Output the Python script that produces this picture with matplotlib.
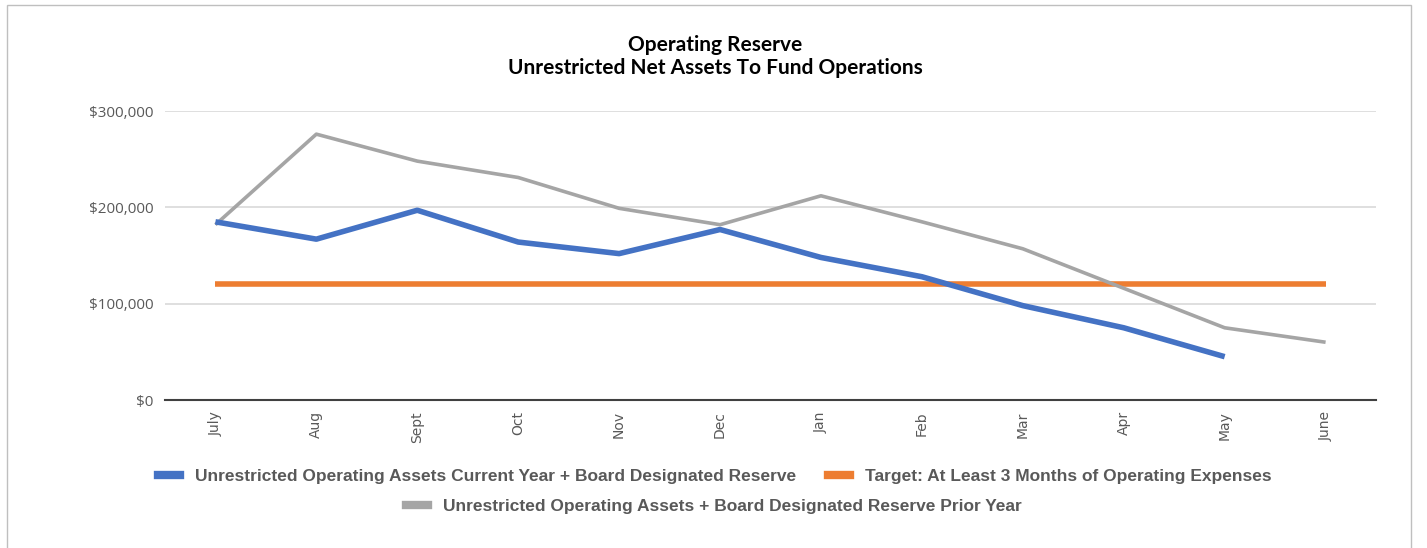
import matplotlib
matplotlib.use("Agg")
import matplotlib.pyplot as plt
from matplotlib.lines import Line2D
from matplotlib.patches import Rectangle
from matplotlib.ticker import FuncFormatter

months = ["July", "Aug", "Sept", "Oct", "Nov", "Dec", "Jan", "Feb", "Mar", "Apr", "May", "June"]
current_year = [185000, 167000, 197000, 164000, 152000, 177000, 148000, 128000, 98000, 75000, 45000]
target = [120500] * 12
prior_year = [182000, 276000, 248000, 231000, 199000, 182000, 212000, 185000, 157000, 116000, 75000, 60000]

lbl_current = "Unrestricted Operating Assets Current Year + Board Designated Reserve"
lbl_target = "Target: At Least 3 Months of Operating Expenses"
lbl_prior = "Unrestricted Operating Assets + Board Designated Reserve Prior Year"

blue = "#4472c4"
orange = "#ed7d31"
gray = "#a5a5a5"
txt = "#595959"

fig = plt.figure(figsize=(14.27, 5.48), dpi=100)
ax = fig.add_axes([0.1156, 0.27, 0.8487, 0.5274])

x = list(range(len(months)))
ax.plot(x, target, color=orange, lw=4.0, solid_capstyle="butt", zorder=3)
ax.plot(x, prior_year, color=gray, lw=2.6, solid_capstyle="butt", zorder=4)
ax.plot(x[:len(current_year)], current_year, color=blue, lw=4.0, solid_capstyle="butt", zorder=5)

ax.set_xlim(-0.5, len(months) - 0.5)
ax.set_ylim(0, 300000)
ax.set_yticks([0, 100000, 200000, 300000])
ax.yaxis.set_major_formatter(FuncFormatter(lambda v, p: "${:,.0f}".format(v)))
ax.set_xticks(x)
ax.set_xticklabels(months, rotation=90, fontsize=10, color=txt, family="DejaVu Sans")
for t in ax.get_yticklabels():
    t.set_fontsize(11)
    t.set_color(txt)
    t.set_family("Open Sans")
ax.tick_params(axis="both", length=0, pad=8)
ax.grid(axis="y", color="#d9d9d9", lw=1.2)
ax.set_axisbelow(True)
for s in ["top", "right", "left"]:
    ax.spines[s].set_visible(False)
ax.spines["bottom"].set_color("#404040")
ax.spines["bottom"].set_linewidth(1.5)
ax.spines["bottom"].set_zorder(6)

fig.text(0.501, 0.918, "Operating Reserve", ha="center", va="center",
         fontsize=15, fontweight="bold", family="Lato")
fig.text(0.501, 0.876, "Unrestricted Net Assets To Fund Operations", ha="center", va="center",
         fontsize=15, fontweight="bold", family="Lato")

leg_font = {"family": "Liberation Sans", "weight": "bold", "size": 12.5}
h1 = [Line2D([], [], color=blue, lw=6), Line2D([], [], color=orange, lw=6)]
leg1 = fig.legend(h1, [lbl_current, lbl_target], loc="center", bbox_to_anchor=(0.501, 0.131),
                  ncol=2, frameon=False, prop=leg_font, handlelength=1.27, columnspacing=1.8,
                  handletextpad=0.86)
for t in leg1.get_texts():
    t.set_color(txt)
h2 = [Line2D([], [], color=gray, lw=6)]
leg2 = fig.legend(h2, [lbl_prior], loc="center", bbox_to_anchor=(0.5, 0.075),
                  frameon=False, prop=leg_font, handlelength=1.27, handletextpad=0.86)
for t in leg2.get_texts():
    t.set_color(txt)

fig.patches.append(Rectangle((0.005, -0.01), 0.984, 1.0, transform=fig.transFigure,
                             fill=False, edgecolor="#bfbfbf", lw=1.0))

fig.savefig("out.png", dpi=100)
